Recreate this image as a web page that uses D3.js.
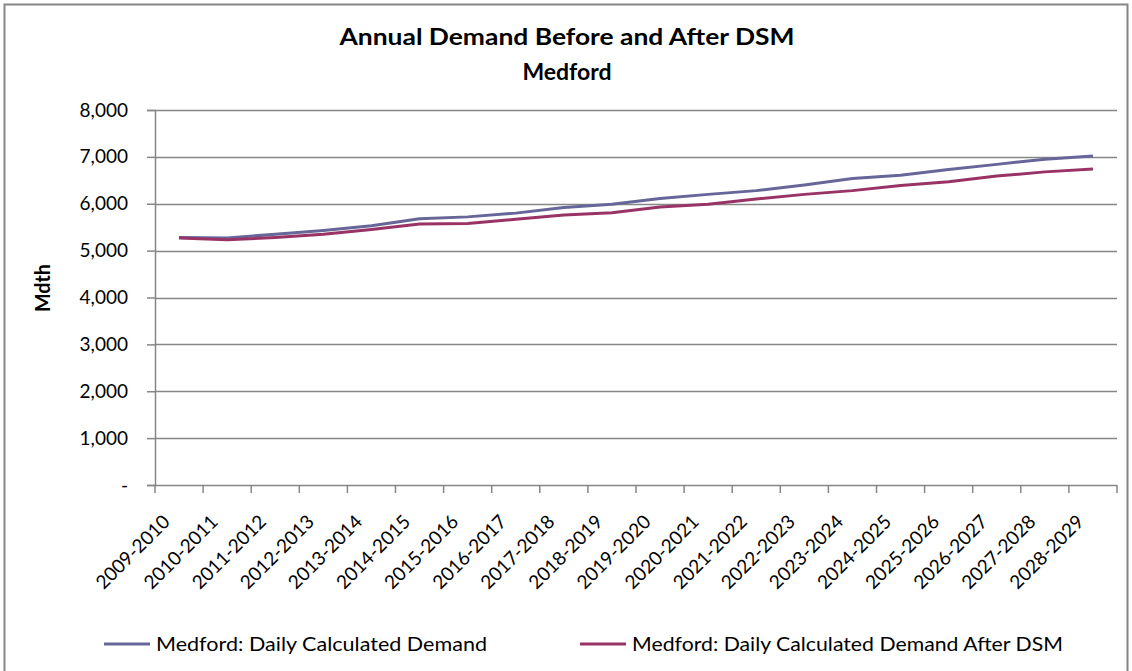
<!DOCTYPE html>
<html>
<head>
<meta charset="utf-8">
<script src="https://cdn.jsdelivr.net/npm/d3@7.9.0/dist/d3.min.js"></script>
<style>
  body { margin: 0; background: #fff; }
  svg text { font-family: Lato, "Open Sans", sans-serif; fill: #000; }
</style>
</head>
<body>
<svg id="chart" width="1132" height="671"></svg>
<script>
// data
const years = ['2009-2010', '2010-2011', '2011-2012', '2012-2013', '2013-2014',
  '2014-2015', '2015-2016', '2016-2017', '2017-2018', '2018-2019', '2019-2020',
  '2020-2021', '2021-2022', '2022-2023', '2023-2024', '2024-2025', '2025-2026',
  '2026-2027', '2027-2028', '2028-2029'];
const demand = [5280, 5270, 5350, 5430, 5530, 5680, 5720, 5800, 5920, 5990,
  6110, 6200, 6280, 6400, 6540, 6610, 6730, 6840, 6950, 7020];
const demandAfterDSM = [5270, 5230, 5280, 5350, 5450, 5570, 5580, 5670, 5760, 5810,
  5930, 5990, 6100, 6200, 6280, 6390, 6470, 6590, 6680, 6740];
const yTicks = [0, 1000, 2000, 3000, 4000, 5000, 6000, 7000, 8000];
const seriesNames = ['Medford: Daily Calculated Demand', 'Medford: Daily Calculated Demand After DSM'];

const svg = d3.select('#chart');

// chart frame
svg.append('rect')
  .attr('x', 4.5).attr('y', 4.5)
  .attr('width', 1123).attr('height', 700)
  .attr('fill', 'none').attr('stroke', '#868686').attr('stroke-width', 2);

const plot = { left: 155, right: 1117, top: 110, bottom: 485 };

const x = d3.scaleBand().domain(years).range([plot.left, plot.right]);
const y = d3.scaleLinear().domain([0, 8000]).range([plot.bottom, plot.top]);

// gridlines
svg.append('g')
  .selectAll('line')
  .data(yTicks.filter(d => d > 0))
  .join('line')
  .attr('x1', plot.left).attr('x2', plot.right)
  .attr('y1', d => Math.round(y(d)) + 0.5).attr('y2', d => Math.round(y(d)) + 0.5)
  .attr('stroke', '#868686').attr('stroke-width', 1.5);

// y axis
const yAxis = svg.append('g')
  .attr('transform', `translate(${plot.left},0)`)
  .call(d3.axisLeft(y).tickValues(yTicks).tickSize(8).tickPadding(19)
    .tickFormat(d => d === 0 ? '-' : d3.format(',')(d)));
yAxis.select('.domain').attr('stroke', '#868686').attr('stroke-width', 1.5);
yAxis.selectAll('.tick line').attr('stroke', '#868686').attr('stroke-width', 1.5);
yAxis.selectAll('.tick text')
  .style('font-size', '19px').style('font-family', 'Lato, sans-serif').attr('fill', '#000');

// x axis (ticks at category boundaries)
const xAxisG = svg.append('g').attr('transform', `translate(0,${plot.bottom})`);
xAxisG.append('line')
  .attr('x1', plot.left).attr('x2', plot.right)
  .attr('y1', 0.5).attr('y2', 0.5)
  .attr('stroke', '#868686').attr('stroke-width', 1.5);
const boundaries = years.map(d => x(d)).concat([plot.right]);
xAxisG.selectAll('line.tk')
  .data(boundaries)
  .join('line')
  .attr('class', 'tk')
  .attr('x1', d => d).attr('x2', d => d)
  .attr('y1', 0).attr('y2', 8)
  .attr('stroke', '#868686').attr('stroke-width', 1.5);
xAxisG.selectAll('text')
  .data(years)
  .join('text')
  .attr('transform', d => `translate(${x(d) + x.bandwidth() / 2 - 8},38) rotate(-45)`)
  .attr('text-anchor', 'end')
  .style('font-size', '19px')
  .text(d => d);

// lines
const colors = ['#666699', '#993366'];
const lineGen = d3.line()
  .x((d, i) => x(years[i]) + x.bandwidth() / 2)
  .y(d => y(d));
[demand, demandAfterDSM].forEach((s, i) => {
  svg.append('path')
    .datum(s)
    .attr('d', lineGen)
    .attr('fill', 'none')
    .attr('stroke', colors[i])
    .attr('stroke-width', 3)
    .attr('stroke-linejoin', 'round');
});

// titles
svg.append('text')
  .attr('x', 567).attr('y', 45)
  .attr('text-anchor', 'middle')
  .attr('textLength', 455).attr('lengthAdjust', 'spacingAndGlyphs')
  .style('font-size', '23px').style('font-weight', 'bold')
  .text('Annual Demand Before and After DSM');
svg.append('text')
  .attr('x', 567).attr('y', 80)
  .attr('text-anchor', 'middle')
  .style('font-size', '23px').style('font-weight', 'bold')
  .text('Medford');
svg.append('text')
  .attr('transform', 'translate(50,288) rotate(-90)')
  .attr('text-anchor', 'middle')
  .attr('textLength', 48).attr('lengthAdjust', 'spacingAndGlyphs')
  .style('font-size', '20px').style('font-weight', 'bold')
  .text('Mdth');

// legend
const legendX = [104, 580];
const legendLen = [331, 431];
const legend = svg.append('g');
seriesNames.forEach((name, i) => {
  legend.append('line')
    .attr('x1', legendX[i]).attr('x2', legendX[i] + 46)
    .attr('y1', 644).attr('y2', 644)
    .attr('stroke', colors[i]).attr('stroke-width', 3);
  legend.append('text')
    .attr('x', legendX[i] + 52).attr('y', 651)
    .attr('textLength', legendLen[i]).attr('lengthAdjust', 'spacingAndGlyphs')
    .style('font-size', '19px')
    .text(name);
});
</script>
</body>
</html>
